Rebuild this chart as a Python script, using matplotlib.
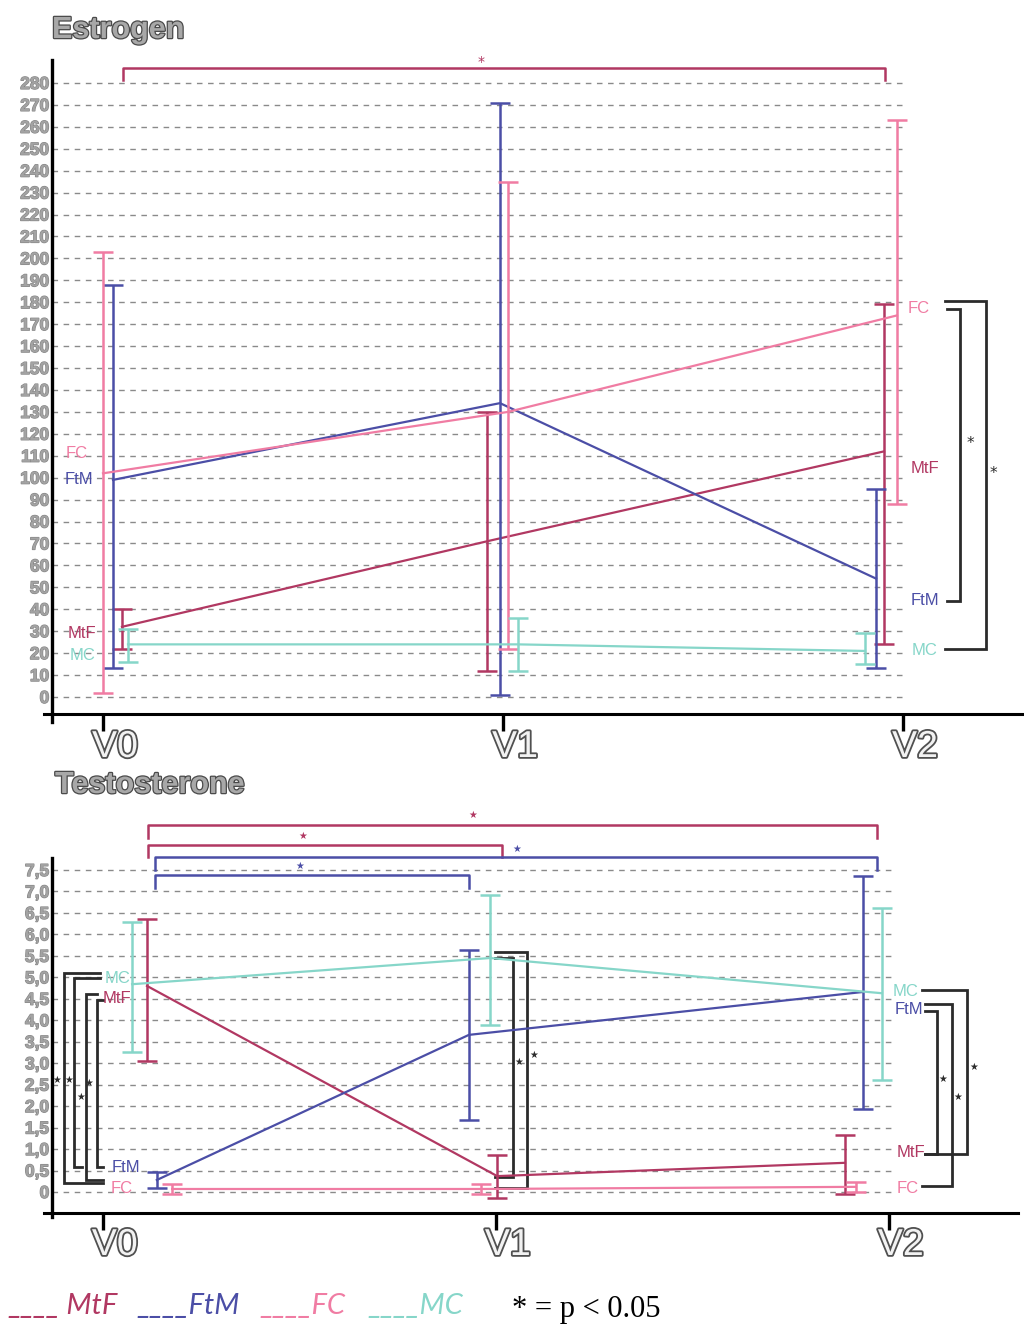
import matplotlib
matplotlib.use('Agg')
import matplotlib.pyplot as plt
import matplotlib.patheffects as pe

W, H = 1024, 1327

visits = ['V0', 'V1', 'V2']
series = ['MtF', 'FtM', 'FC', 'MC']
colors = {'MtF': '#b13862', 'FtM': '#4b4ea6', 'FC': '#f07ca3', 'MC': '#86d6c9'}

# ---- Estrogen data (mean, lower, upper) ----
estr_mtf_mean = [32, 71, 112]
estr_mtf_low = [22, 12, 24]
estr_mtf_high = [40, 130, 179]
estr_ftm_mean = [99, 134, 54]
estr_ftm_low = [13, 1, 13]
estr_ftm_high = [188, 271, 95]
estr_fc_mean = [102, 130, 174]
estr_fc_low = [2, 22, 88]
estr_fc_high = [203, 235, 263]
estr_mc_mean = [24, 24, 21]
estr_mc_low = [16, 12, 15]
estr_mc_high = [31, 36, 29]
estr_ticks = list(range(0, 281, 10))

# ---- Testosterone data (mean, lower, upper) ----
test_mtf_mean = [4.80, 0.37, 0.68]
test_mtf_low = [3.05, -0.15, -0.05]
test_mtf_high = [6.36, 0.86, 1.33]
test_ftm_mean = [0.28, 3.66, 4.66]
test_ftm_low = [0.09, 1.68, 1.93]
test_ftm_high = [0.47, 5.64, 7.36]
test_fc_mean = [0.07, 0.07, 0.12]
test_fc_low = [-0.05, -0.05, 0.0]
test_fc_high = [0.19, 0.19, 0.24]
test_mc_mean = [4.84, 5.45, 4.63]
test_mc_low = [3.26, 3.89, 2.61]
test_mc_high = [6.29, 6.92, 6.61]
test_ticks = [i * 0.5 for i in range(16)]
test_ticklabels = ['0'] + [f'{t:.1f}'.replace('.', ',') for t in test_ticks[1:]]

estr = {
    'MtF': (estr_mtf_mean, estr_mtf_low, estr_mtf_high),
    'FtM': (estr_ftm_mean, estr_ftm_low, estr_ftm_high),
    'FC': (estr_fc_mean, estr_fc_low, estr_fc_high),
    'MC': (estr_mc_mean, estr_mc_low, estr_mc_high),
}
test = {
    'MtF': (test_mtf_mean, test_mtf_low, test_mtf_high),
    'FtM': (test_ftm_mean, test_ftm_low, test_ftm_high),
    'FC': (test_fc_mean, test_fc_low, test_fc_high),
    'MC': (test_mc_mean, test_mc_low, test_mc_high),
}

# dodge offsets (layout only)
estr_off = {'MtF': [0.0475, -0.04, -0.0475], 'FtM': [0.025, -0.0075, -0.0675],
            'FC': [0.0, 0.0125, -0.015], 'MC': [0.0625, 0.0375, -0.095]}
test_off = {'MtF': [0.112, 0.003, -0.112], 'FtM': [0.137, -0.069, -0.066],
            'FC': [0.176, -0.038, -0.085], 'MC': [0.074, -0.015, -0.018]}

BR = '#2b2b2b'
GRAYTXT = '#a3a3a3'
outline = [pe.withStroke(linewidth=0.9, foreground='#858585')]
outline_title = [pe.withStroke(linewidth=1.8, foreground='#4a4a4a')]
outline_v = [pe.withStroke(linewidth=2.6, foreground='#505050')]

fig = plt.figure(figsize=(W / 100, H / 100), dpi=100)


def make_axes(left, right, top, bottom, xlim, ylim):
    ax = fig.add_axes([left / W, 1 - bottom / H, (right - left) / W, (bottom - top) / H])
    ax.set_xlim(*xlim)
    ax.set_ylim(*ylim)
    for s in ax.spines.values():
        s.set_visible(False)
    ax.plot([-0.008, 1], [0, 0], transform=ax.transAxes, color='black', lw=2.2, clip_on=False)
    ax.plot([0, 0], [-0.012, 1], transform=ax.transAxes, color='black', lw=2.4, clip_on=False)
    ax.set_xticks([0, 1, 2])
    ax.set_xticklabels(['', '', ''])
    ax.tick_params(axis='x', direction='out', length=12, width=2.4, color='black')
    ax.tick_params(axis='y', length=0, pad=2)
    return ax


def draw_series(ax, data, off, cap):
    for s in series:
        mean, lo, hi = data[s]
        xs = [i + off[s][i] for i in range(3)]
        ax.plot(xs, mean, color=colors[s], lw=1.6, zorder=3)
        ax.errorbar(xs, mean, yerr=[[m - l for m, l in zip(mean, lo)], [h - m for m, h in zip(mean, hi)]],
                    fmt='none', ecolor=colors[s], elinewidth=1.8, capsize=cap, capthick=1.8, zorder=3)


def bracket_h(ax, x1, x2, y, ytick, color, star_xy, star, fs=9):
    ax.plot([x1, x1, x2, x2], [ytick, y, y, ytick], color=color, lw=1.8, clip_on=False)
    ax.text(*star_xy, star, color=color, fontsize=fs, ha='center', va='center', clip_on=False)


def bracket_v(ax, xs_top, xs_bot, xv, ytop, ybot, star_xy, star, fs=9):
    ax.plot([xs_top, xv, xv, xs_bot], [ytop, ytop, ybot, ybot], color=BR, lw=2.0, clip_on=False,
            solid_joinstyle='miter')
    ax.text(*star_xy, star, color=BR, fontsize=fs, ha='center', va='center', clip_on=False)


def vlabels(ax, ylab):
    for i, v in enumerate(visits):
        ax.text(i + 0.03, ylab, v, fontsize=27, family='Liberation Sans',
                color='#f2f2f2', ha='center', va='center', path_effects=outline_v, clip_on=False)


def style_yticks(ax, ticks, labels):
    ax.set_yticks(ticks)
    ax.set_yticklabels(labels)
    for t in ax.get_yticklabels():
        t.set_fontfamily('Liberation Sans')
        t.set_fontweight('bold')
        t.set_fontsize(12.5)
        t.set_color(GRAYTXT)
        t.set_path_effects(outline)


# ================= Estrogen =================
ex0, exs = 103, 400.0
ey0, eys = 697, 2.193
axE = make_axes(52, 1022, 60, 714, ((52 - ex0) / exs, (1022 - ex0) / exs), ((ey0 - 714) / eys, (ey0 - 60) / eys))
for y in estr_ticks:
    axE.plot([(52 - ex0) / exs, (905 - ex0) / exs], [y, y], color='#8a8a8a', lw=1.0,
             dashes=(4, 4), zorder=1)
style_yticks(axE, estr_ticks, [str(t) for t in estr_ticks])
draw_series(axE, estr, estr_off, 7)
vlabels(axE, (ey0 - 747) / eys)

lab_kw = dict(fontsize=12, family='Liberation Sans', ha='center', va='center', clip_on=False)
axE.text(-0.065, 111, 'FC', color=colors['FC'], **lab_kw)
axE.text(-0.06, 99.4, 'FtM', color=colors['FtM'], **lab_kw)
axE.text(-0.052, 29, 'MtF', color=colors['MtF'], **lab_kw)
axE.text(-0.052, 19, 'MC', color=colors['MC'], **lab_kw)
axE.text(2.04, 177, 'FC', color=colors['FC'], **lab_kw)
axE.text(2.055, 104, 'MtF', color=colors['MtF'], **lab_kw)
axE.text(2.055, 44, 'FtM', color=colors['FtM'], **lab_kw)
axE.text(2.055, 21.4, 'MC', color=colors['MC'], **lab_kw)

bracket_h(axE, 0.05, 1.955, 286.8, 281.4, colors['MtF'], (0.945, 289.6), '*', 10)
bracket_v(axE, 2.11, 2.11, 2.1425, 176.9, 43.8, (2.1675, 115.8), '*', 11)
bracket_v(axE, 2.105, 2.105, 2.2075, 180.6, 21.9, (2.225, 102), '*', 11)

# ================= Testosterone =================
tx0, txs = 103, 393.0
ty0, tys = 1192, 42.93
axT = make_axes(52, 1018, 858, 1213, ((52 - tx0) / txs, (1018 - tx0) / txs), ((ty0 - 1213) / tys, (ty0 - 858) / tys))
for y in test_ticks:
    axT.plot([(52 - tx0) / txs, (895 - tx0) / txs], [y, y], color='#8a8a8a', lw=1.0,
             dashes=(4, 4), zorder=1)
style_yticks(axT, test_ticks, test_ticklabels)
draw_series(axT, test, test_off, 7)
vlabels(axT, (ty0 - 1245) / tys)

axT.text(0.036, 4.98, 'MC', color=colors['MC'], **lab_kw)
axT.text(0.036, 4.50, 'MtF', color=colors['MtF'], **lab_kw)
axT.text(0.059, 0.58, 'FtM', color=colors['FtM'], **lab_kw)
axT.text(0.048, 0.07, 'FC', color=colors['FC'], **lab_kw)
axT.text(2.043, 4.68, 'MC', color=colors['MC'], **lab_kw)
axT.text(2.051, 4.24, 'FtM', color=colors['FtM'], **lab_kw)
axT.text(2.056, 0.91, 'MtF', color=colors['MtF'], **lab_kw)
axT.text(2.048, 0.09, 'FC', color=colors['FC'], **lab_kw)

star = '★'
bracket_h(axT, 0.115, 1.969, 8.55, 8.25, colors['MtF'], (0.941, 8.78), star, 7)
bracket_h(axT, 0.115, 1.015, 8.08, 7.80, colors['MtF'], (0.509, 8.29), star, 7)
bracket_h(axT, 0.132, 1.969, 7.80, 7.50, colors['FtM'], (1.053, 7.99), star, 7)
bracket_h(axT, 0.132, 0.931, 7.38, 7.08, colors['FtM'], (0.501, 7.59), star, 7)

# left brackets
bracket_v(axT, -0.008, 0.0, -0.099, 5.10, 0.21, (-0.117, 2.61), star, 7)
bracket_v(axT, -0.008, -0.053, -0.074, 4.98, 0.58, (-0.087, 2.61), star, 7)
bracket_v(axT, -0.015, 0.0, -0.043, 4.61, 0.28, (-0.056, 2.21), star, 7)
bracket_v(axT, 0.0, 0.0, -0.015, 4.47, 0.58, (-0.036, 2.54), star, 7)
# middle brackets
bracket_v(axT, 0.997, 0.997, 1.043, 5.45, 0.35, (1.059, 3.03), star, 7)
bracket_v(axT, 0.997, 0.997, 1.079, 5.59, 0.09, (1.097, 3.19), star, 7)
# right brackets
bracket_v(axT, 2.092, 2.092, 2.122, 4.22, 0.89, (2.137, 2.63), star, 7)
bracket_v(axT, 2.092, 2.085, 2.160, 4.38, 0.14, (2.176, 2.21), star, 7)
bracket_v(axT, 2.085, 2.092, 2.198, 4.71, 0.89, (2.216, 2.91), star, 7)

# ================= Titles =================
fig.text(52 / W, 1 - 30 / H, 'Estrogen', fontsize=22, fontweight='bold', family='Liberation Sans',
         color='#a8a8a8', ha='left', va='center', path_effects=outline_title)
fig.text(55 / W, 1 - 785 / H, 'Testosterone', fontsize=22, fontweight='bold', family='Liberation Sans',
         color='#a8a8a8', ha='left', va='center', path_effects=outline_title)

# ================= Legend =================
leg_kw = dict(fontsize=21, family='Lato', style='italic', va='baseline', ha='left')
fig.text(8 / W, 1 - 1314 / H, '____ MtF', color=colors['MtF'], **leg_kw)
fig.text(137 / W, 1 - 1314 / H, '____FtM', color=colors['FtM'], **leg_kw)
fig.text(260 / W, 1 - 1314 / H, '____FC', color=colors['FC'], **leg_kw)
fig.text(368 / W, 1 - 1314 / H, '____MC', color=colors['MC'], **leg_kw)
fig.text(512 / W, 1 - 1310 / H, '* = p < 0.05', fontsize=22, family='Liberation Serif',
         color='black', ha='left', va='center')

fig.savefig('out.png', dpi=100)
